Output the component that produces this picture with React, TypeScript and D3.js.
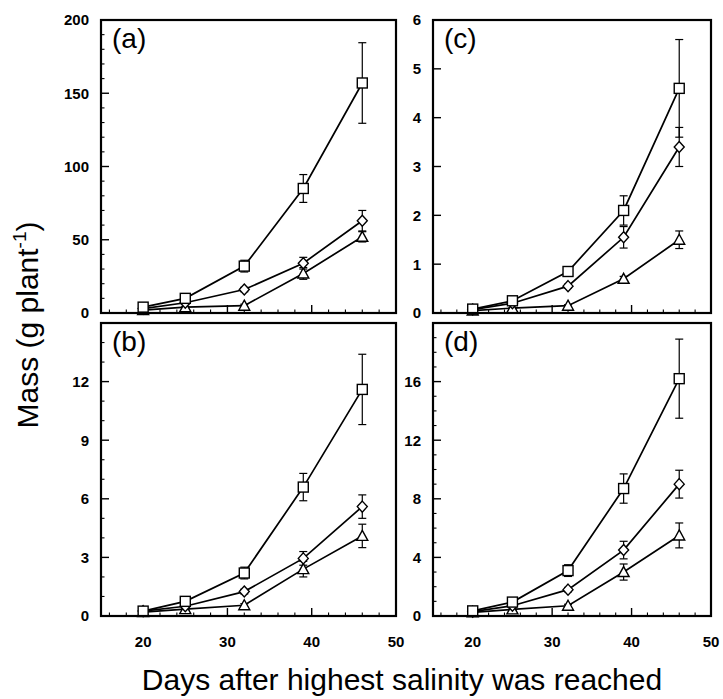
import React from "react";
import * as d3 from "d3";

const days = [20, 25, 32, 39, 46];

const aSquare = [4, 10, 32, 85, 157];
const aSquareErr = [1, 1.5, 4, 9.5, 27.5];
const aDiamond = [3, 7, 16, 34, 63];
const aDiamondErr = [0.5, 1, 1.5, 4, 7];
const aTriangle = [2, 4, 5, 27, 52];
const aTriangleErr = [0.5, 0.5, 1, 4, 3.5];

const bSquare = [0.25, 0.75, 2.2, 6.6, 11.6];
const bSquareErr = [0.05, 0.1, 0.3, 0.7, 1.8];
const bDiamond = [0.25, 0.5, 1.25, 2.95, 5.6];
const bDiamondErr = [0.05, 0.08, 0.12, 0.35, 0.6];
const bTriangle = [0.2, 0.35, 0.55, 2.4, 4.1];
const bTriangleErr = [0.04, 0.05, 0.08, 0.4, 0.6];

const cSquare = [0.08, 0.25, 0.85, 2.1, 4.6];
const cSquareErr = [0.01, 0.03, 0.06, 0.3, 1.0];
const cDiamond = [0.07, 0.2, 0.55, 1.55, 3.4];
const cDiamondErr = [0.01, 0.02, 0.04, 0.22, 0.4];
const cTriangle = [0.05, 0.1, 0.15, 0.7, 1.5];
const cTriangleErr = [0.01, 0.01, 0.02, 0.05, 0.18];

const dSquare = [0.35, 0.95, 3.1, 8.7, 16.2];
const dSquareErr = [0.05, 0.15, 0.4, 1.0, 2.7];
const dDiamond = [0.3, 0.7, 1.8, 4.5, 9.0];
const dDiamondErr = [0.05, 0.1, 0.15, 0.6, 0.95];
const dTriangle = [0.25, 0.45, 0.7, 3.0, 5.5];
const dTriangleErr = [0.04, 0.06, 0.1, 0.55, 0.85];

const xMajorTicks = [20, 30, 40, 50];
const xMinorTicks = [16, 18, 22, 24, 26, 28, 32, 34, 36, 38, 42, 44, 46, 48];

const aYMajor = [0, 50, 100, 150, 200];
const bYMajor = [0, 3, 6, 9, 12];
const cYMajor = [0, 1, 2, 3, 4, 5, 6];
const dYMajor = [0, 4, 8, 12, 16];

const FONT = "'Liberation Sans', Arial, Helvetica, sans-serif";

type Series = { shape: "square" | "diamond" | "triangle"; values: number[]; errs: number[] };

type PanelProps = {
  label: string;
  left: number;
  right: number;
  top: number;
  bottom: number;
  yMax: number;
  yMajor: number[];
  yMinorStep: number | null;
  series: Series[];
  showXLabels: boolean;
};

function Marker({ shape, x, y }: { shape: string; x: number; y: number }) {
  const common = { fill: "#fff", stroke: "#000", strokeWidth: 1.4 };
  if (shape === "square") {
    return <rect x={x - 5} y={y - 5} width={10} height={10} {...common} />;
  }
  if (shape === "diamond") {
    const p = `${x},${y - 5.5} ${x + 5},${y} ${x},${y + 5.5} ${x - 5},${y}`;
    return <polygon points={p} {...common} />;
  }
  const p = `${x},${y - 5.5} ${x + 5.5},${y + 4.5} ${x - 5.5},${y + 4.5}`;
  return <polygon points={p} {...common} />;
}

function Panel(props: PanelProps) {
  const { label, left, right, top, bottom, yMax, yMajor, yMinorStep, series, showXLabels } = props;
  const x = d3.scaleLinear().domain([15, 50]).range([left, right]);
  const y = d3.scaleLinear().domain([0, yMax]).range([bottom, top]);
  const line = d3
    .line<number>()
    .x((_, i) => x(days[i]))
    .y((v) => y(v));

  const yMinor: number[] = [];
  if (yMinorStep) {
    const n = Math.round(yMax / yMinorStep);
    for (let i = 1; i < n; i++) {
      const v = i * yMinorStep;
      if (!yMajor.some((m) => Math.abs(m - v) < 1e-9)) yMinor.push(v);
    }
  }

  return (
    <g>
      {yMajor.map((v) => (
        <g key={"ym" + v}>
          {v > 0 && v < yMax && <line x1={left} x2={left + 8} y1={y(v)} y2={y(v)} stroke="#000" strokeWidth={1.4} />}
          <text
            x={left - 12}
            y={y(v)}
            dy="0.36em"
            textAnchor="end"
            fontFamily={FONT}
            fontWeight="bold"
            fontSize={15}
          >
            {v}
          </text>
        </g>
      ))}
      {yMinor.map((v) => (
        <line key={"yn" + v} x1={left} x2={left + 3.5} y1={y(v)} y2={y(v)} stroke="#000" strokeWidth={1.1} />
      ))}
      {xMajorTicks.map((v) => (
        <line key={"xm" + v} x1={x(v)} x2={x(v)} y1={bottom} y2={bottom - 8} stroke="#000" strokeWidth={1.4} />
      ))}
      {xMinorTicks.map((v) => (
        <line key={"xn" + v} x1={x(v)} x2={x(v)} y1={bottom} y2={bottom - 3.5} stroke="#000" strokeWidth={1.1} />
      ))}
      {showXLabels &&
        xMajorTicks.map((v) => (
          <text
            key={"xl" + v}
            x={x(v)}
            y={647}
            textAnchor="middle"
            fontFamily={FONT}
            fontWeight="bold"
            fontSize={15}
          >
            {v}
          </text>
        ))}
      {series.map((s, si) => (
        <path key={"l" + si} d={line(s.values) || ""} fill="none" stroke="#000" strokeWidth={1.7} />
      ))}
      {series.map((s, si) =>
        s.values.map((v, i) => {
          const cx = x(days[i]);
          const y1 = y(v + s.errs[i]);
          const y2 = y(Math.max(0, v - s.errs[i]));
          return (
            <g key={"e" + si + "-" + i} stroke="#000" strokeWidth={1.2}>
              <line x1={cx} x2={cx} y1={y1} y2={y2} />
              <line x1={cx - 4} x2={cx + 4} y1={y1} y2={y1} />
              <line x1={cx - 4} x2={cx + 4} y1={y2} y2={y2} />
            </g>
          );
        })
      )}
      {series.map((s, si) =>
        s.values.map((v, i) => <Marker key={"m" + si + "-" + i} shape={s.shape} x={x(days[i])} y={y(v)} />)
      )}
      <rect x={left} y={top} width={right - left} height={bottom - top} fill="none" stroke="#000" strokeWidth={2.2} />
      <text x={left + 11} y={top + 28} fontFamily={FONT} fontSize={28}>
        {label}
      </text>
    </g>
  );
}

export default function App() {
  const L1 = 101,
    R1 = 396,
    L2 = 433,
    R2 = 711;
  const T1 = 20,
    B1 = 313,
    T2 = 323,
    B2 = 616;
  return (
    <svg
      width={723}
      height={699}
      viewBox="0 0 723 699"
      style={{ position: "absolute", left: 0, top: 0, background: "#fff" }}
    >
      <rect x={0} y={0} width={723} height={699} fill="#fff" />
      <Panel
        label="(a)"
        left={L1}
        right={R1}
        top={T1}
        bottom={B1}
        yMax={200}
        yMajor={aYMajor}
        yMinorStep={10}
        showXLabels={false}
        series={[
          { shape: "triangle", values: aTriangle, errs: aTriangleErr },
          { shape: "diamond", values: aDiamond, errs: aDiamondErr },
          { shape: "square", values: aSquare, errs: aSquareErr },
        ]}
      />
      <Panel
        label="(b)"
        left={L1}
        right={R1}
        top={T2}
        bottom={B2}
        yMax={15}
        yMajor={bYMajor}
        yMinorStep={1}
        showXLabels={true}
        series={[
          { shape: "triangle", values: bTriangle, errs: bTriangleErr },
          { shape: "diamond", values: bDiamond, errs: bDiamondErr },
          { shape: "square", values: bSquare, errs: bSquareErr },
        ]}
      />
      <Panel
        label="(c)"
        left={L2}
        right={R2}
        top={T1}
        bottom={B1}
        yMax={6}
        yMajor={cYMajor}
        yMinorStep={null}
        showXLabels={false}
        series={[
          { shape: "triangle", values: cTriangle, errs: cTriangleErr },
          { shape: "diamond", values: cDiamond, errs: cDiamondErr },
          { shape: "square", values: cSquare, errs: cSquareErr },
        ]}
      />
      <Panel
        label="(d)"
        left={L2}
        right={R2}
        top={T2}
        bottom={B2}
        yMax={20}
        yMajor={dYMajor}
        yMinorStep={1}
        showXLabels={true}
        series={[
          { shape: "triangle", values: dTriangle, errs: dTriangleErr },
          { shape: "diamond", values: dDiamond, errs: dDiamondErr },
          { shape: "square", values: dSquare, errs: dSquareErr },
        ]}
      />
      <text
        transform="translate(38,325) rotate(-90)"
        textAnchor="middle"
        fontFamily={FONT}
        fontSize={30}
      >
        Mass (g plant
        <tspan fontSize={19} dy={-12}>
          -1
        </tspan>
        <tspan dy={12}>)</tspan>
      </text>
      <text x={402} y={690} textAnchor="middle" fontFamily={FONT} fontSize={30}>
        Days after highest salinity was reached
      </text>
    </svg>
  );
}
